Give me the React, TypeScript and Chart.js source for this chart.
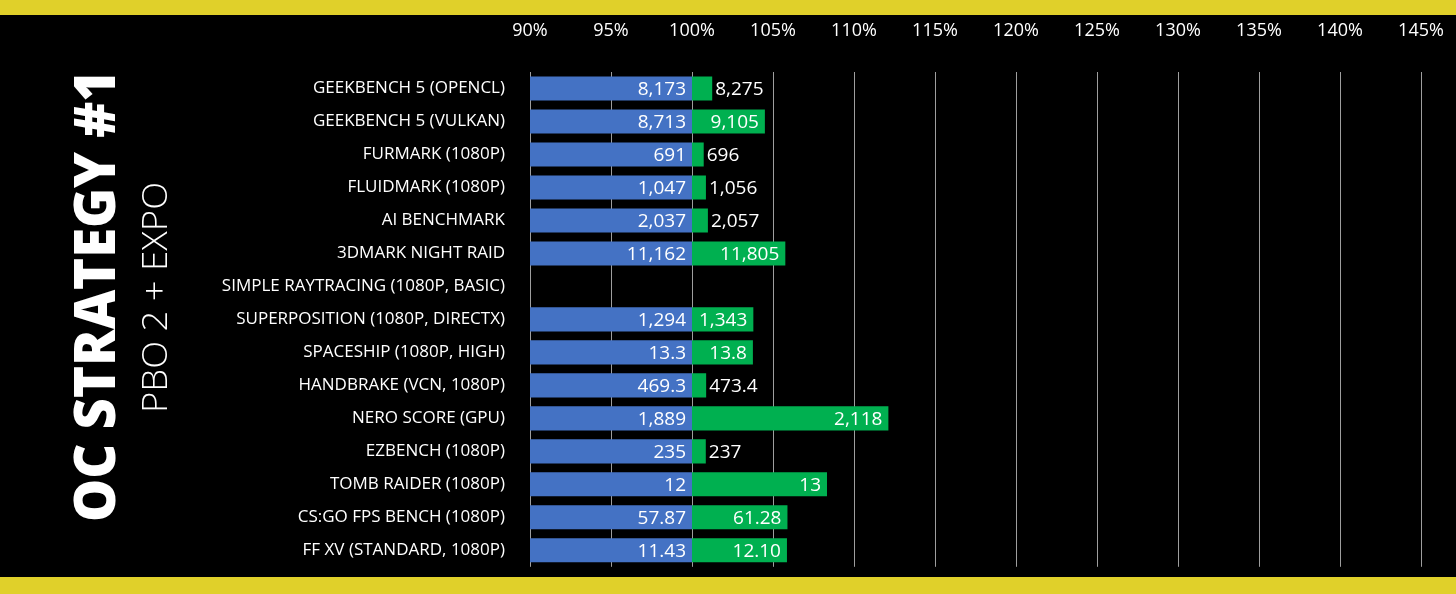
import React, { useEffect, useRef } from "react";
import { Chart, registerables } from "chart.js";

Chart.register(...registerables);

const categories = [
  "GEEKBENCH 5 (OPENCL)",
  "GEEKBENCH 5 (VULKAN)",
  "FURMARK (1080P)",
  "FLUIDMARK (1080P)",
  "AI BENCHMARK",
  "3DMARK NIGHT RAID",
  "SIMPLE RAYTRACING (1080P, BASIC)",
  "SUPERPOSITION (1080P, DIRECTX)",
  "SPACESHIP (1080P, HIGH)",
  "HANDBRAKE (VCN, 1080P)",
  "NERO SCORE (GPU)",
  "EZBENCH (1080P)",
  "TOMB RAIDER (1080P)",
  "CS:GO FPS BENCH (1080P)",
  "FF XV (STANDARD, 1080P)",
];

const baselineScores: (number | null)[] = [
  8173, 8713, 691, 1047, 2037, 11162, null, 1294, 13.3, 469.3, 1889, 235, 12, 57.87, 11.43,
];
const ocScores: (number | null)[] = [
  8275, 9105, 696, 1056, 2057, 11805, null, 1343, 13.8, 473.4, 2118, 237, 13, 61.28, 12.1,
];
const decimals = [0, 0, 0, 0, 0, 0, 0, 0, 1, 1, 0, 0, 0, 2, 2];

const xTicksMin = 90;
const xTicksMax = 145;
const xTickStep = 5;

const titleText = "OC STRATEGY #1";
const subtitleText = "PBO 2 + EXPO";

const BLUE = "#4472C4";
const GREEN = "#00B050";
const YELLOW = "#E0D02A";
const FONT = "'Open Sans', 'Noto Sans', sans-serif";

function fmt(v: number, d: number) {
  return v.toLocaleString("en-US", { minimumFractionDigits: d, maximumFractionDigits: d });
}

export default function App() {
  const ref = useRef<HTMLCanvasElement>(null);
  useEffect(() => {
    if (!ref.current) return;
    const blueData = baselineScores.map((b) => (b == null ? null : [xTicksMin, 100]));
    const greenData = baselineScores.map((b, i) => {
      const o = ocScores[i];
      return b == null || o == null ? null : [100, (o / b) * 100];
    });

    const bgPlugin = {
      id: "bg",
      beforeDraw(chart: any) {
        const c = chart.ctx;
        c.save();
        c.fillStyle = "#000";
        c.fillRect(0, 0, chart.width, chart.height);
        c.fillStyle = YELLOW;
        c.fillRect(0, 0, chart.width, 15);
        c.fillRect(0, 577, chart.width, chart.height - 577);
        const drawVert = (text: string, font: string, baseX: number, y0: number, y1: number) => {
          c.save();
          c.font = font;
          const w = c.measureText(text).width;
          const s = (y1 - y0) / w;
          c.translate(baseX, y1);
          c.rotate(-Math.PI / 2);
          c.scale(s, 1);
          c.fillStyle = "#fff";
          c.textBaseline = "alphabetic";
          c.textAlign = "left";
          c.fillText(text, 0, 0);
          c.restore();
        };
        drawVert(titleText, `800 56px ${FONT}`, 115, 70, 522);
        drawVert(subtitleText, `300 35px ${FONT}`, 167, 182, 413);
        c.restore();
      },
    };

    const labelPlugin = {
      id: "vals",
      afterDatasetsDraw(chart: any) {
        const c = chart.ctx;
        const mb = chart.getDatasetMeta(0);
        const mg = chart.getDatasetMeta(1);
        c.save();
        c.font = `19px ${FONT}`;
        c.fillStyle = "#fff";
        c.textBaseline = "middle";
        baselineScores.forEach((b, i) => {
          const o = ocScores[i];
          if (b == null || o == null) return;
          const eb = mb.data[i];
          const eg = mg.data[i];
          c.textAlign = "right";
          c.fillText(fmt(b, decimals[i]), eb.x - 6, eb.y + 1);
          const t = fmt(o, decimals[i]);
          const tw = c.measureText(t).width;
          const width = eg.x - eg.base;
          if (width > tw + 8) {
            c.textAlign = "right";
            c.fillText(t, eg.x - 6, eg.y + 1);
          } else {
            c.textAlign = "left";
            c.fillText(t, eg.x + 3, eg.y + 1);
          }
        });
        c.restore();
      },
    };

    const chart = new Chart(ref.current, {
      type: "bar",
      data: {
        labels: categories,
        datasets: [
          {
            data: blueData as any,
            backgroundColor: BLUE,
            borderWidth: 0,
            barPercentage: 0.73,
            categoryPercentage: 1,
          },
          {
            data: greenData as any,
            backgroundColor: GREEN,
            borderWidth: 0,
            barPercentage: 0.73,
            categoryPercentage: 1,
          },
        ],
      },
      options: {
        indexAxis: "y",
        animation: false,
        responsive: false,
        devicePixelRatio: 1,
        layout: { padding: { left: 0, right: 35, top: 15, bottom: 21 } },
        plugins: { legend: { display: false }, tooltip: { enabled: false } },
        scales: {
          x: {
            position: "top",
            min: xTicksMin,
            max: xTicksMax,
            ticks: {
              stepSize: xTickStep,
              color: "#fff",
              font: { family: FONT, size: 18 },
              padding: 0,
              callback: (v: any) => `${v}%`,
            },
            grid: {
              color: "rgba(255,255,255,0.62)",
              lineWidth: 1,
              drawTicks: true,
              tickLength: 30,
              tickColor: "rgba(0,0,0,0)",
            },
            border: { display: false },
            afterFit: (s: any) => {
              s.height = 57;
            },
          },
          y: {
            stacked: true,
            ticks: { color: "#fff", font: { family: FONT, size: 17 }, padding: 17 },
            grid: { display: false },
            border: { display: false },
            afterFit: (s: any) => {
              s.width = 530;
            },
          },
        },
      },
      plugins: [bgPlugin, labelPlugin],
    } as any);
    return () => chart.destroy();
  }, []);
  return (
    <div style={{ position: "fixed", left: 0, top: 0, width: 1456, height: 594, background: "#000" }}>
      <canvas ref={ref} width={1456} height={594} style={{ display: "block" }} />
    </div>
  );
}
